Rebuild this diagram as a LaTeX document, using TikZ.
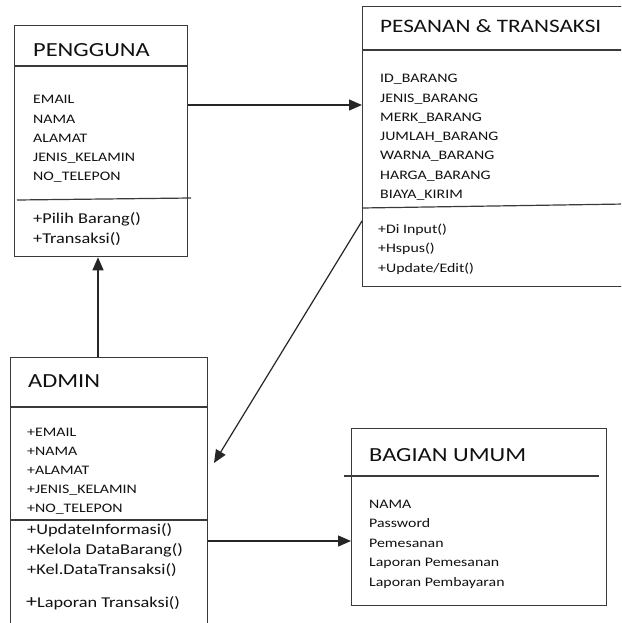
\documentclass[tikz,border=0pt]{standalone}
\usepackage{fontspec}
\setmainfont{Carlito}[FakeStretch=1.22]
\usetikzlibrary{arrows.meta,calc}
\definecolor{ln}{HTML}{3A3A3A}
\definecolor{tx}{HTML}{111111}
\tikzset{
  box/.style={draw=ln,line width=1.3pt,rectangle,inner sep=0pt,anchor=north west},
  divider/.style={draw=ln,line width=1.2pt},
  arr/.style={draw=black!85,line width=1.2pt,-{Triangle[length=13pt,width=11pt]}},
  ttl/.style={anchor=base west,inner sep=0pt,text=tx,font=\fontsize{20}{24}\selectfont},
  attr/.style={anchor=base west,inner sep=0pt,text=tx,font=\fontsize{13}{16}\selectfont},
  meth/.style={anchor=base west,inner sep=0pt,text=tx,font=\fontsize{15}{18}\selectfont},
  methsm/.style={anchor=base west,inner sep=0pt,text=tx,font=\fontsize{13}{16}\selectfont}
}
\begin{document}
\begin{tikzpicture}[x=1pt,y=-1pt]
\useasboundingbox (0,0) rectangle (621,623);
\fill[white] (0,0) rectangle (621,623);
\clip (0,0) rectangle (621,623);
% boxes
\node[box,minimum width=173pt,minimum height=231pt] (peng) at (14,25) {};
\node[box,minimum width=265pt,minimum height=280pt] (pes) at (362,6) {};
\node[box,minimum width=197pt,minimum height=280pt] (admin) at (10,357) {};
\node[box,minimum width=255pt,minimum height=177pt] (bag) at (351,428) {};
% dividers
\coordinate (pd1a) at (14,66); \coordinate (pd1b) at (187,66);
\draw[divider] (pd1a) -- (pd1b);
\coordinate (pd2a) at (17,200); \coordinate (pd2b) at (191,198);
\draw[divider] (pd2a) -- (pd2b);
\coordinate (sd1a) at (362,50); \coordinate (sd1b) at (625,50);
\draw[divider] (sd1a) -- (sd1b);
\coordinate (sd2a) at (362,208); \coordinate (sd2b) at (625,204);
\draw[divider] (sd2a) -- (sd2b);
\coordinate (ad1a) at (10,407); \coordinate (ad1b) at (207,407);
\draw[divider] (ad1a) -- (ad1b);
\coordinate (ad2a) at (10,520); \coordinate (ad2b) at (207,520);
\draw[divider] (ad2a) -- (ad2b);
\coordinate (bd1a) at (344,476); \coordinate (bd1b) at (599,476);
\draw[divider] (bd1a) -- (bd1b);
% titles
\node[ttl] (tpeng) at (33,57) {PENGGUNA};
\node[ttl,font=\fontsize{19}{24}\selectfont] (tpes) at (380,33) {PESANAN \& TRANSAKSI};
\node[ttl] (tadmin) at (28,387) {ADMIN};
\node[ttl] (tbag) at (369,461) {BAGIAN UMUM};
% PENGGUNA
\foreach \t [count=\i] in {EMAIL,NAMA,ALAMAT,JENIS\_KELAMIN,NO\_TELEPON}
  \node[attr] (pa\i) at (33,{104+19*(\i-1)}) {\t};
\node[meth] (pm1) at (33,223) {+Pilih Barang()};
\node[meth] (pm2) at (33,243) {+Transaksi()};
% PESANAN
\foreach \t [count=\i] in {ID\_BARANG,JENIS\_BARANG,MERK\_BARANG,JUMLAH\_BARANG,WARNA\_BARANG,HARGA\_BARANG,BIAYA\_KIRIM}
  \node[attr] (sa\i) at (380,{83+19.2*(\i-1)}) {\t};
\foreach \t [count=\i] in {+Di Input(),+Hspus(),+Update/Edit()}
  \node[methsm] (sm\i) at (378,{233+19.5*(\i-1)}) {\t};
% ADMIN
\foreach \t [count=\i] in {+EMAIL,+NAMA,+ALAMAT,+JENIS\_KELAMIN,+NO\_TELEPON}
  \node[attr] (aa\i) at (27,{436+19*(\i-1)}) {\t};
\node[meth] (am1) at (27,534) {+UpdateInformasi()};
\node[meth] (am2) at (27,554) {+Kelola DataBarang()};
\node[meth] (am3) at (27,574) {+Kel.DataTransaksi()};
\node[meth] (am4) at (26,607) {{\fontsize{18}{18}\selectfont +}Laporan Transaksi()};
% BAGIAN UMUM
\foreach \t [count=\i] in {NAMA,Password,Pemesanan,Laporan Pemesanan,Laporan Pembayaran}
  \node[attr] (ba\i) at (369,{508+19.5*(\i-1)}) {\t};
% connectors
\coordinate (y105) at (0,105);
\coordinate (x98) at (98,0);
\coordinate (y541) at (0,541);
\coordinate (diagS) at (362,221);
\coordinate (diagE) at (214,463);
\draw[arr] (peng.east |- y105) -- (pes.west |- y105);
\draw[arr] (admin.north -| x98) -- (peng.south -| x98);
\draw[arr] (admin.east |- y541) -- (bag.west |- y541);
\draw[arr] (diagS) -- (diagE);
\end{tikzpicture}
\end{document}
